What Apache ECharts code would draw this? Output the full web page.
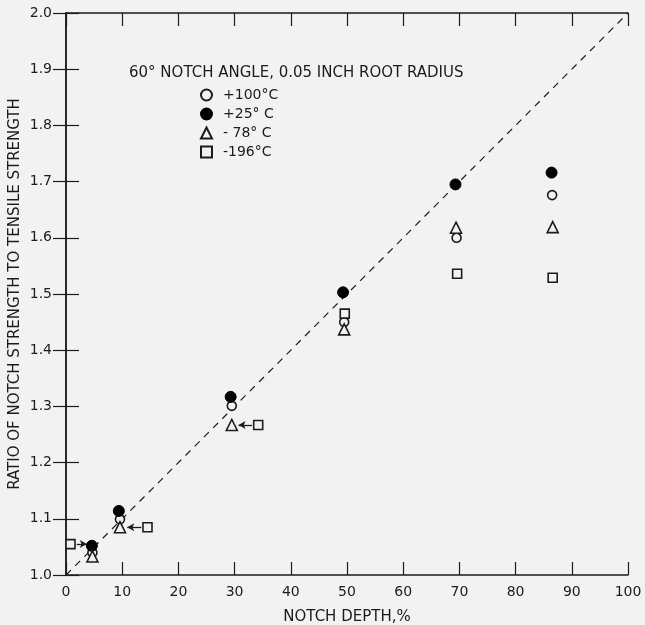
<!DOCTYPE html>
<html>
<head>
<meta charset="utf-8">
<script src="https://cdn.jsdelivr.net/npm/echarts@6/dist/echarts.min.js"></script>
<style>
html,body{margin:0;padding:0;background:#f2f2f2;}
#chart{width:645px;height:625px;}
</style>
</head>
<body>
<div id="chart"></div>
<script>
// Data
const xTicks = [0, 10, 20, 30, 40, 50, 60, 70, 80, 90, 100];
const yTicks = [1.0, 1.1, 1.2, 1.3, 1.4, 1.5, 1.6, 1.7, 1.8, 1.9, 2.0];
const seriesNames = ['+100°C', '+25° C', '- 78° C', '-196°C'];
const open100 = [[4.7, 1.040], [9.6, 1.099], [29.5, 1.301], [49.5, 1.450], [69.5, 1.600], [86.5, 1.676]];
const filled25 = [[4.6, 1.052], [9.4, 1.114], [29.3, 1.317], [49.3, 1.503], [69.3, 1.695], [86.4, 1.716]];
const tri78 = [[4.7, 1.033], [9.6, 1.085], [29.5, 1.267], [49.5, 1.437], [69.4, 1.618], [86.6, 1.619]];
const sq196 = [[0.8, 1.055], [14.5, 1.085], [34.2, 1.267], [49.6, 1.465], [69.6, 1.536], [86.6, 1.529]];
const refLine = [[0, 1.0], [100, 2.0]];
const arrows = [
  [[1.9, 1.055], [3.7, 1.055]],
  [[13.4, 1.085], [10.9, 1.085]],
  [[33.1, 1.267], [30.7, 1.267]]
];
const legendTitle = '60° NOTCH ANGLE, 0.05 INCH ROOT RADIUS';
const xName = 'NOTCH DEPTH,%';
const yName = 'RATIO OF NOTCH STRENGTH TO TENSILE STRENGTH';

const ink = '#1c1c1c';
const bg = '#f2f2f2';
const font = 'DejaVu Sans';

const chart = echarts.init(document.getElementById('chart'));
const tickInside = {show: true, inside: true, length: 13, lineStyle: {color: ink, width: 1.2}};
const axisLine = {show: true, lineStyle: {color: ink, width: 1.5}};

chart.setOption({
  backgroundColor: bg,
  animation: false,
  textStyle: {fontFamily: font},
  grid: {left: 66, right: 17, top: 13, bottom: 50, containLabel: false, outerBoundsMode: 'none'},
  title: {
    text: legendTitle,
    left: 124, top: 61,
    textStyle: {fontFamily: font, fontSize: 15, fontWeight: 'normal', color: ink}
  },
  legend: {
    orient: 'vertical',
    left: 195, top: 82,
    itemWidth: 11, itemHeight: 11, itemGap: 3,
    data: seriesNames,
    textStyle: {fontFamily: font, fontSize: 14, color: ink, padding: [0, 0, 0, 6], lineHeight: 16}
  },
  xAxis: [{
    type: 'value', min: 0, max: 100, interval: 10, position: 'bottom',
    axisLine: axisLine, axisTick: tickInside, splitLine: {show: false},
    axisLabel: {color: ink, fontSize: 14, margin: 10, fontFamily: font,
      formatter: v => xTicks.includes(v) ? String(v) : ''},
    name: xName, nameLocation: 'middle', nameGap: 35,
    nameTextStyle: {color: ink, fontSize: 15, fontFamily: font}
  }, {
    type: 'value', min: 0, max: 100, interval: 10, position: 'top',
    axisLine: axisLine, axisTick: tickInside, splitLine: {show: false},
    axisLabel: {show: false}
  }],
  yAxis: [{
    type: 'value', min: 1, max: 2, interval: 0.1, position: 'left',
    axisLine: axisLine, axisTick: tickInside, splitLine: {show: false},
    axisLabel: {color: ink, fontSize: 14, margin: 14, fontFamily: font,
      formatter: v => yTicks.some(t => Math.abs(t - v) < 1e-6) ? v.toFixed(1) : ''},
    name: yName, nameLocation: 'middle', nameGap: 43, nameMoveOverlap: false,
    nameTextStyle: {color: ink, fontSize: 15, fontFamily: font}
  }, {
    type: 'value', min: 1, max: 2, interval: 0.1, position: 'right',
    axisLine: axisLine, axisTick: tickInside, splitLine: {show: false},
    axisLabel: {show: false}
  }],
  series: [
    {
      type: 'line', data: refLine, symbol: 'none', silent: true, z: 1,
      lineStyle: {color: ink, width: 1.2, type: [7, 6]}
    },
    {
      name: seriesNames[0], type: 'scatter', data: open100, symbol: 'circle', symbolSize: 9, z: 3,
      itemStyle: {color: bg, borderColor: ink, borderWidth: 1.6, opacity: 1}
    },
    {
      name: seriesNames[1], type: 'scatter', data: filled25, symbol: 'circle', symbolSize: 11, z: 4,
      itemStyle: {color: '#000', borderColor: '#000', borderWidth: 1, opacity: 1}
    },
    {
      name: seriesNames[2], type: 'scatter', data: tri78, symbol: 'triangle', symbolSize: 11, z: 4,
      itemStyle: {color: bg, borderColor: ink, borderWidth: 1.6, opacity: 1}
    },
    {
      name: seriesNames[3], type: 'scatter', data: sq196, symbol: 'rect', symbolSize: 9, z: 3,
      itemStyle: {color: bg, borderColor: ink, borderWidth: 1.6, opacity: 1},
      markLine: {
        silent: true, symbol: ['none', 'arrow'], symbolSize: [6, 7],
        label: {show: false},
        lineStyle: {color: ink, width: 1.3, type: 'solid'},
        data: arrows.map(a => [{coord: a[0]}, {coord: a[1]}])
      }
    }
  ]
});
</script>
</body>
</html>
